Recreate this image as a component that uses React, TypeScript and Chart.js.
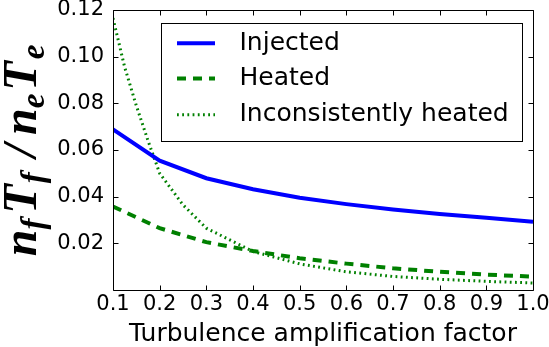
import React, { useEffect, useRef } from "react";
import { Chart, registerables } from "chart.js";

Chart.register(...registerables);

// ---- data ----
const factorX = [0.1, 0.2, 0.3, 0.4, 0.5, 0.6, 0.7, 0.8, 0.9, 1.0];
const injectedValues = [0.0688, 0.0554, 0.0479, 0.0432, 0.0395, 0.0368, 0.0345, 0.0326, 0.031, 0.0293];
const heatedValues = [0.0358, 0.0265, 0.0205, 0.0167, 0.0136, 0.0113, 0.0093, 0.0078, 0.0066, 0.0057];
const inconsistentX = [0.1, 0.125, 0.15, 0.175, 0.2, 0.25, 0.3, 0.4, 0.5, 0.6, 0.7, 0.8, 0.9, 1.0];
const inconsistentValues = [0.1165, 0.0955, 0.079, 0.064, 0.05, 0.0365, 0.0265, 0.0165, 0.0112, 0.0078, 0.0058, 0.0046, 0.0037, 0.003];
const seriesLabels = ["Injected", "Heated", "Inconsistently heated"];
const xTickValues = [0.1, 0.2, 0.3, 0.4, 0.5, 0.6, 0.7, 0.8, 0.9, 1.0];
const yTickValues = [0.02, 0.04, 0.06, 0.08, 0.1, 0.12];
const xTitle = "Turbulence amplification factor";

const W = 549;
const H = 347;
const SANS = "'DejaVu Sans', sans-serif";
const MATH = "'Liberation Serif', serif";

export default function App() {
  const ref = useRef<HTMLCanvasElement>(null);

  useEffect(() => {
    const canvas = ref.current!;

    const decorPlugin = {
      id: "decor",
      beforeDraw(chart: any) {
        const ctx = chart.ctx;
        ctx.save();
        ctx.fillStyle = "#fff";
        ctx.fillRect(0, 0, chart.width, chart.height);
        ctx.restore();
      },
      afterDatasetsDraw(chart: any) {
        const { ctx, chartArea: a, scales } = chart;
        const L = Math.round(a.left) + 0.5;
        const R = Math.round(a.right) + 0.5;
        const T = Math.round(a.top) + 0.5;
        const B = Math.round(a.bottom) + 0.5;
        ctx.save();
        ctx.strokeStyle = "#000";
        ctx.lineWidth = 1;
        ctx.beginPath();
        ctx.rect(L, T, R - L, B - T);
        ctx.stroke();
        const tl = 5;
        ctx.beginPath();
        for (const v of xTickValues) {
          const px = Math.round(scales.x.getPixelForValue(v)) + 0.5;
          ctx.moveTo(px, B);
          ctx.lineTo(px, B - tl);
          ctx.moveTo(px, T);
          ctx.lineTo(px, T + tl);
        }
        for (const v of yTickValues) {
          const py = Math.round(scales.y.getPixelForValue(v)) + 0.5;
          ctx.moveTo(L, py);
          ctx.lineTo(L + tl, py);
          ctx.moveTo(R, py);
          ctx.lineTo(R - tl, py);
        }
        ctx.stroke();
        ctx.restore();
      },
      afterDraw(chart: any) {
        const ctx = chart.ctx;
        // ---- legend ----
        ctx.save();
        const bx = 161.5, by = 23.5, bw = 361, bh = 118;
        ctx.fillStyle = "#fff";
        ctx.fillRect(bx, by, bw, bh);
        ctx.strokeStyle = "#000";
        ctx.lineWidth = 1;
        ctx.strokeRect(bx, by, bw, bh);
        const rows = [43.3, 78.5, 114.8];
        chart.data.datasets.forEach((ds: any, i: number) => {
          const y = rows[i];
          ctx.save();
          ctx.strokeStyle = ds.borderColor;
          ctx.lineWidth = ds.borderWidth;
          ctx.setLineDash(ds.borderDash || []);
          ctx.lineCap = "butt";
          ctx.beginPath();
          ctx.moveTo(177, y);
          ctx.lineTo(215, y);
          ctx.stroke();
          ctx.restore();
          ctx.fillStyle = "#000";
          ctx.font = `25px ${SANS}`;
          ctx.textBaseline = "middle";
          ctx.textAlign = "left";
          ctx.fillText(ds.label, 239.5, y);
        });
        ctx.restore();

        // ---- y-axis label: n_f T_f / n_e T_e ----
        ctx.save();
        ctx.translate(36, 150.5);
        ctx.rotate(-Math.PI / 2);
        ctx.fillStyle = "#000";
        ctx.textBaseline = "alphabetic";
        ctx.textAlign = "left";
        const big = `italic bold 48px ${MATH}`;
        const small = `italic bold 33px ${MATH}`;
        // [text, font, baseline shift, extra gap after]
        const parts: [string, string, number, number][] = [
          ["n", big, 0, 0],
          ["f", small, 8, 5],
          ["T", big, 0, 1],
          ["f", small, 8, 15],
          ["/", big, 0, 9],
          ["n", big, 0, 0],
          ["e", small, 8, 3],
          ["T", big, 0, 2],
          ["e", small, 8, 0],
        ];
        let total = 0;
        const widths = parts.map(([t, f, , g]) => {
          ctx.font = f;
          const w = ctx.measureText(t).width + g;
          total += w;
          return w;
        });
        let x = -total / 2;
        parts.forEach(([t, f, dy], i) => {
          ctx.font = f;
          ctx.fillText(t, x, dy);
          x += widths[i];
        });
        ctx.restore();
      },
    };

    const chart = new Chart(canvas, {
      type: "line",
      data: {
        datasets: [
          {
            label: seriesLabels[0],
            data: factorX.map((x, i) => ({ x, y: injectedValues[i] })),
            borderColor: "#0000ff",
            borderWidth: 4,
            borderDash: [],
            pointRadius: 0,
            tension: 0,
            fill: false,
          },
          {
            label: seriesLabels[1],
            data: factorX.map((x, i) => ({ x, y: heatedValues[i] })),
            borderColor: "#008000",
            borderWidth: 4,
            borderDash: [9, 7],
            pointRadius: 0,
            tension: 0,
            fill: false,
          },
          {
            label: seriesLabels[2],
            data: inconsistentX.map((x, i) => ({ x, y: inconsistentValues[i] })),
            borderColor: "#008000",
            borderWidth: 3,
            borderDash: [1.8, 3.4],
            pointRadius: 0,
            tension: 0,
            fill: false,
          },
        ],
      },
      options: {
        animation: false,
        responsive: false,
        devicePixelRatio: 1,
        layout: { padding: { top: 10, right: 16, left: 0, bottom: 0 } },
        plugins: {
          legend: { display: false },
          tooltip: { enabled: false },
        },
        events: [],
        scales: {
          x: {
            type: "linear",
            min: 0.1,
            max: 1.0,
            afterBuildTicks(scale: any) {
              scale.ticks = xTickValues.map((value) => ({ value }));
            },
            afterFit(scale: any) {
              scale.height = 57;
              scale.paddingLeft = 0;
              scale.paddingRight = 0;
            },
            grid: { display: false, drawTicks: false },
            border: { display: false },
            ticks: {
              color: "#000",
              font: { family: SANS, size: 21 },
              padding: 2,
              maxRotation: 0,
              autoSkip: false,
              callback: (v: any) => Number(v).toFixed(1),
            },
            title: {
              display: true,
              text: xTitle,
              color: "#000",
              font: { family: SANS, size: 25 },
              padding: { top: 0, bottom: -2 },
            },
          },
          y: {
            type: "linear",
            min: 0,
            max: 0.12,
            afterBuildTicks(scale: any) {
              scale.ticks = yTickValues.map((value) => ({ value }));
            },
            afterFit(scale: any) {
              scale.width = 113;
              scale.paddingTop = 0;
              scale.paddingBottom = 0;
            },
            grid: { display: false, drawTicks: false },
            border: { display: false },
            ticks: {
              color: "#000",
              font: { family: SANS, size: 21 },
              padding: 9,
              autoSkip: false,
              callback: (v: any) => Number(v).toFixed(2),
            },
          },
        },
      },
      plugins: [decorPlugin],
    } as any);

    return () => chart.destroy();
  }, []);

  return (
    <div style={{ position: "fixed", left: 0, top: 0, width: W, height: H, background: "#fff" }}>
      <canvas ref={ref} width={W} height={H} style={{ display: "block", width: W, height: H }} />
    </div>
  );
}
